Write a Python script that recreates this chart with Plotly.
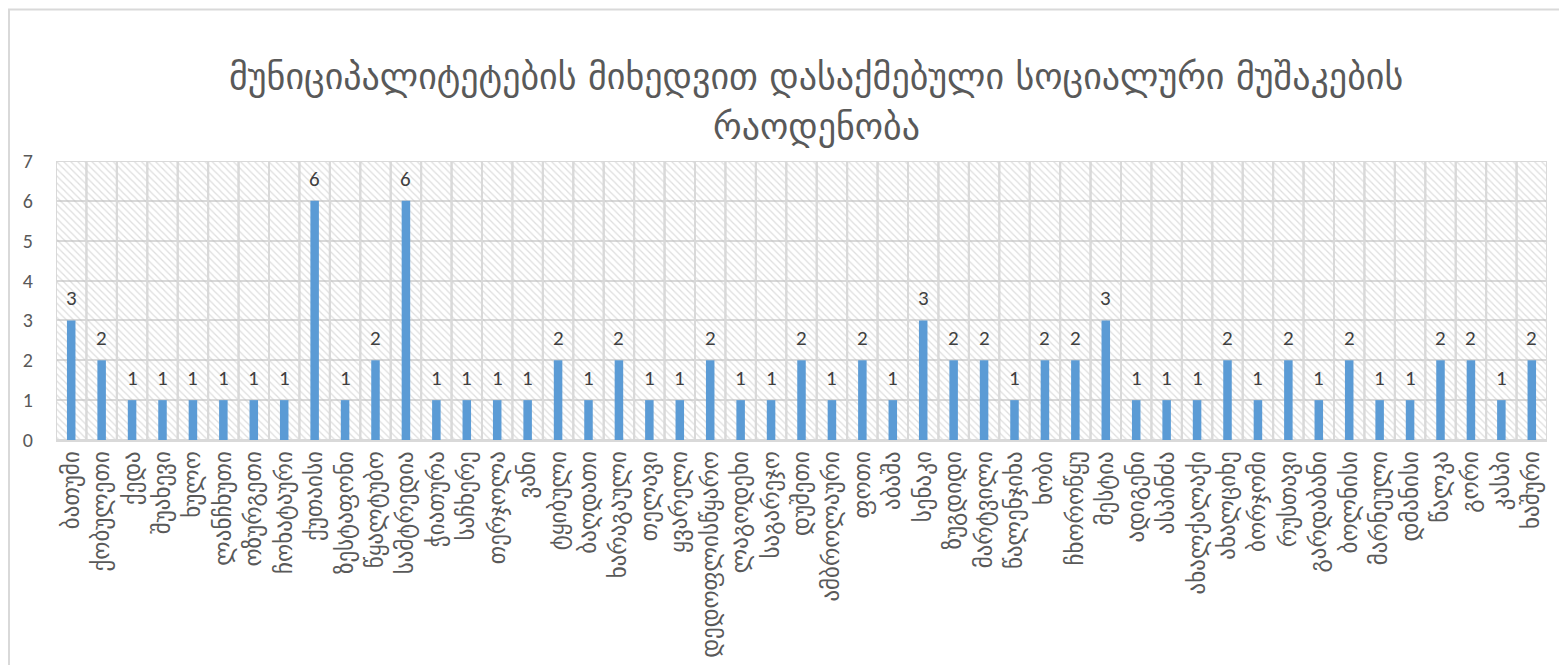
import plotly.graph_objects as go

title_line1 = "მუნიციპალიტეტების მიხედვით დასაქმებული სოციალური მუშაკების"
title_line2 = "რაოდენობა"

municipalities = [
    "ბათუმი", "ქობულეთი", "ქედა", "შუახევი", "ხულო", "ლანჩხუთი", "ოზურგეთი",
    "ჩოხატაური", "ქუთაისი", "ზესტაფონი", "წყალტუბო", "სამტრედია", "ჭიათურა",
    "საჩხერე", "თერჯოლა", "ვანი", "ტყიბული", "ბაღდათი", "ხარაგაული", "თელავი",
    "ყვარელი", "დედოფლისწყარო", "ლაგოდეხი", "საგარეჯო", "დუშეთი", "ამბროლაური",
    "ფოთი", "აბაშა", "სენაკი", "ზუგდიდი", "მარტვილი", "წალენჯიხა", "ხობი",
    "ჩხოროწყუ", "მესტია", "ადიგენი", "ასპინძა", "ახალქალაქი", "ახალციხე",
    "ბორჯომი", "რუსთავი", "გარდაბანი", "ბოლნისი", "მარნეული", "დმანისი",
    "წალკა", "გორი", "კასპი", "ხაშური",
]
workers = [
    3, 2, 1, 1, 1, 1, 1,
    1, 6, 1, 2, 6, 1,
    1, 1, 1, 2, 1, 2, 1,
    1, 2, 1, 1, 2, 1,
    2, 1, 3, 2, 2, 1, 2,
    2, 3, 1, 1, 1, 2,
    1, 2, 1, 2, 1, 1,
    2, 2, 1, 2,
]
y_ticks = [0, 1, 2, 3, 4, 5, 6, 7]
y_max = 7

FONT = "Calibri, 'Open Sans', 'DejaVu Sans', sans-serif"
GEO_FONT = "'DejaVu Sans', 'Open Sans', sans-serif"
GRID = "#d9d9d9"

# page has an 8px body margin, so the figure is laid out 8px in from the page edge
W, H = 1559, 657
L, T = 48, 152.5
PLOT_W, PLOT_H = 1490.6, 280

fig = go.Figure()

# hatched plot-area background (one cell per category)
fig.add_trace(go.Bar(
    x=municipalities,
    y=[y_max] * len(municipalities),
    width=1,
    marker=dict(
        color="rgba(0,0,0,0)",
        line=dict(color=GRID, width=2),
        pattern=dict(shape="\\", fgcolor="#bdbdbd", bgcolor="rgba(0,0,0,0)",
                     size=5, solidity=0.25),
    ),
    hoverinfo="skip",
    showlegend=False,
))

fig.add_trace(go.Bar(
    x=municipalities,
    y=workers,
    width=0.28,
    marker=dict(color="#5B9BD5", line=dict(width=0)),
    showlegend=False,
))

# value labels above the bars
value_labels = [
    dict(x=m, y=v, xref="x", yref="y", text=str(v), showarrow=False,
         yanchor="bottom", yshift=7,
         font=dict(family=FONT, size=21, color="#404040"))
    for m, v in zip(municipalities, workers)
]

title_annotations = [
    dict(text=title_line1, xref="paper", yref="paper", x=0.51,
         y=1.0 + (T - 68) / PLOT_H,
         xanchor="center", yanchor="middle", showarrow=False,
         font=dict(family=GEO_FONT, size=36, color="#595959")),
    dict(text=title_line2, xref="paper", yref="paper", x=0.51,
         y=1.0 + (T - 118) / PLOT_H,
         xanchor="center", yanchor="middle", showarrow=False,
         font=dict(family=GEO_FONT, size=36, color="#595959")),
]

fig.update_layout(
    width=W,
    height=H,
    barmode="overlay",
    paper_bgcolor="white",
    plot_bgcolor="white",
    margin=dict(l=L, r=W - L - PLOT_W, t=T, b=H - T - PLOT_H, autoexpand=False),
    font=dict(family=FONT, color="#595959"),
    xaxis=dict(
        tickangle=-90,
        tickfont=dict(family=GEO_FONT, size=23, color="#595959"),
        showline=True, linecolor=GRID, linewidth=2,
        showgrid=False, ticks="",
        range=[-0.5, len(municipalities) - 0.5],
        automargin=False,
    ),
    yaxis=dict(
        range=[0, y_max],
        tickvals=y_ticks,
        tickfont=dict(family=FONT, size=20, color="#595959"),
        showgrid=True, gridcolor=GRID, gridwidth=2,
        zeroline=False, showline=False, ticks="",
        ticklabelstandoff=22,
        automargin=False,
    ),
    annotations=title_annotations + value_labels,
    shapes=[
        dict(type="rect", xref="paper", yref="paper",
             x0=(1 - L) / PLOT_W, x1=(W + 20 - L) / PLOT_W,
             y0=-(H + 40 - T - PLOT_H) / PLOT_H, y1=1.0 + (T - 0.5) / PLOT_H,
             line=dict(color=GRID, width=2), fillcolor="rgba(0,0,0,0)", layer="below"),
    ],
)

fig.write_html("out.html")
